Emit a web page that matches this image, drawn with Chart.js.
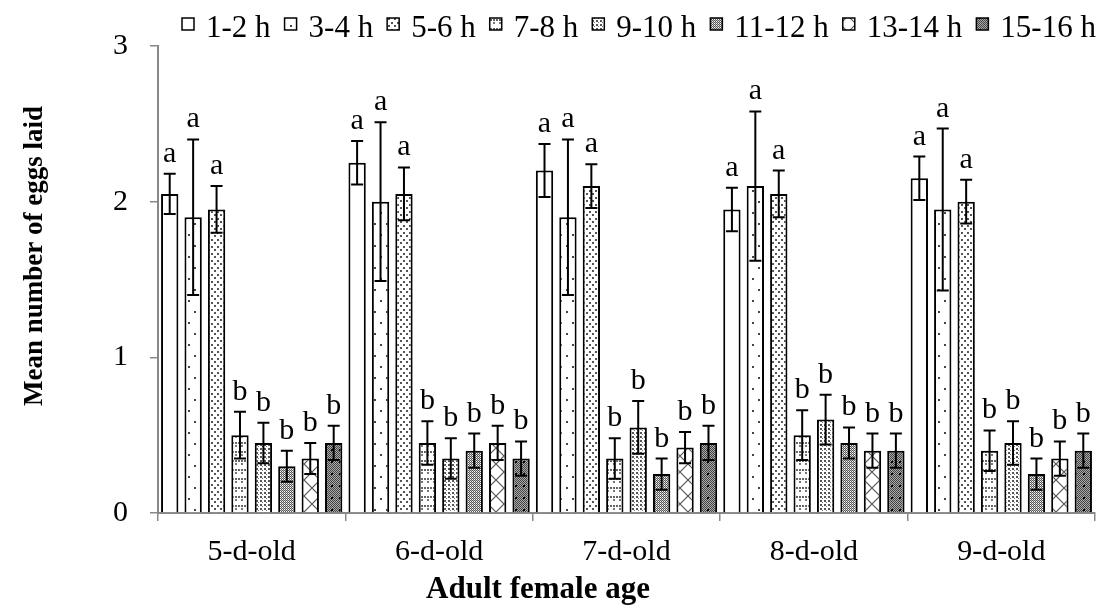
<!DOCTYPE html>
<html lang="en">
<head>
<meta charset="UTF-8">
<title>Mean number of eggs laid</title>
<script src="https://cdn.jsdelivr.net/npm/chart.js"></script>
<style>
  body { margin: 0; background: #fff; }
  canvas { display: block; }
</style>
</head>
<body>
<canvas id="eggChart" width="1101" height="610"></canvas>
<script>
// categories and series
const ages = ['5-d-old', '6-d-old', '7-d-old', '8-d-old', '9-d-old'];
const periods = ['1-2 h', '3-4 h', '5-6 h', '7-8 h', '9-10 h', '11-12 h', '13-14 h', '15-16 h'];

// mean eggs laid, one array per period (values for each age)
const mean_1_2   = [2.05, 2.25, 2.20, 1.95, 2.15];
const mean_3_4   = [1.90, 2.00, 1.90, 2.10, 1.95];
const mean_5_6   = [1.95, 2.05, 2.10, 2.05, 2.00];
const mean_7_8   = [0.50, 0.45, 0.35, 0.50, 0.40];
const mean_9_10  = [0.45, 0.35, 0.55, 0.60, 0.45];
const mean_11_12 = [0.30, 0.40, 0.25, 0.45, 0.25];
const mean_13_14 = [0.35, 0.45, 0.42, 0.40, 0.35];
const mean_15_16 = [0.45, 0.35, 0.45, 0.40, 0.40];

// standard errors
const se_1_2   = [0.13, 0.14, 0.17, 0.14, 0.14];
const se_3_4   = [0.50, 0.51, 0.50, 0.48, 0.52];
const se_5_6   = [0.15, 0.17, 0.14, 0.15, 0.14];
const se_7_8   = [0.15, 0.14, 0.13, 0.16, 0.13];
const se_9_10  = [0.13, 0.13, 0.17, 0.16, 0.14];
const se_11_12 = [0.10, 0.11, 0.10, 0.10, 0.10];
const se_13_14 = [0.10, 0.11, 0.10, 0.11, 0.11];
const se_15_16 = [0.11, 0.11, 0.11, 0.11, 0.11];

// significance letters per period
const letters = ['a', 'a', 'a', 'b', 'b', 'b', 'b', 'b'];
const yTicks = [0, 1, 2, 3];

const means = [mean_1_2, mean_3_4, mean_5_6, mean_7_8, mean_9_10, mean_11_12, mean_13_14, mean_15_16];
const errors = [se_1_2, se_3_4, se_5_6, se_7_8, se_9_10, se_11_12, se_13_14, se_15_16];

const SERIF = '"Liberation Serif", "Times New Roman", serif';

const canvas = document.getElementById('eggChart');
const ctx = canvas.getContext('2d');

function tile(w, h, draw) {
    const c = document.createElement('canvas');
    c.width = w; c.height = h;
    const g = c.getContext('2d');
    g.fillStyle = '#fff';
    g.fillRect(0, 0, w, h);
    draw(g);
    return ctx.createPattern(c, 'repeat');
}
function dot(g, x, y, s, col) { g.fillStyle = col || '#333'; g.fillRect(x, y, s, s); }

const fills = [
    '#ffffff',
    // sparse dots
    tile(12, 22, g => { dot(g, 2, 3, 2, '#444'); dot(g, 8, 14, 2, '#444'); }),
    // dotted
    tile(6, 7, g => { dot(g, 1, 1, 2, '#555'); dot(g, 4, 4, 2, '#555'); }),
    // small dashed grid
    tile(6, 9, g => { dot(g, 1, 1, 2, '#666'); dot(g, 4, 1, 2, '#666'); dot(g, 1, 4, 2, '#777'); }),
    // dense dots
    tile(4, 4, g => { dot(g, 0, 0, 2, '#555'); dot(g, 2, 2, 1, '#777'); }),
    // dark checker
    tile(2, 2, g => { dot(g, 0, 0, 1, '#555'); dot(g, 1, 1, 1, '#555'); dot(g, 1, 0, 1, '#bbb'); }),
    // cross hatch
    tile(16, 16, g => {
        g.strokeStyle = '#555'; g.lineWidth = 1.2;
        g.beginPath();
        g.moveTo(0, 0); g.lineTo(16, 16);
        g.moveTo(16, 0); g.lineTo(0, 16);
        g.stroke();
    }),
    // dark checker with black specks
    tile(8, 12, g => {
        for (let x = 0; x < 8; x++) for (let y = 0; y < 12; y++) {
            g.fillStyle = (x + y) % 2 ? '#aaa' : '#444';
            g.fillRect(x, y, 1, 1);
        }
        dot(g, 3, 5, 2, '#000');
    })
];

const datasets = periods.map((p, i) => ({
    label: p,
    data: means[i],
    backgroundColor: fills[i],
    borderColor: '#000',
    borderWidth: 2,
    barPercentage: 0.74,
    categoryPercentage: 1.0
}));

const errorBars = {
    id: 'errorBars',
    afterDatasetsDraw(chart) {
        const c = chart.ctx;
        const y = chart.scales.y;
        c.save();
        c.strokeStyle = '#000';
        c.lineWidth = 2;
        c.fillStyle = '#000';
        c.font = '30px ' + SERIF;
        c.textAlign = 'center';
        c.textBaseline = 'alphabetic';
        chart.data.datasets.forEach((ds, i) => {
            const meta = chart.getDatasetMeta(i);
            meta.data.forEach((bar, j) => {
                const v = ds.data[j], e = errors[i][j];
                const top = y.getPixelForValue(v + e);
                const bot = y.getPixelForValue(v - e);
                const x = bar.x;
                c.beginPath();
                c.moveTo(x, top); c.lineTo(x, bot);
                c.moveTo(x - 6, top); c.lineTo(x + 6, top);
                c.moveTo(x - 6, bot); c.lineTo(x + 6, bot);
                c.stroke();
                c.fillText(letters[i], x, top - 12);
            });
        });
        c.restore();
    }
};

// legend across the top and the axis titles (placed off-centre like the original)
const extras = {
    id: 'extras',
    afterDraw(chart) {
        const c = chart.ctx;
        c.save();
        c.font = '31px ' + SERIF;
        c.textBaseline = 'alphabetic';
        c.textAlign = 'left';
        let x = 182;
        chart.data.datasets.forEach(ds => {
            c.fillStyle = ds.backgroundColor;
            c.fillRect(x, 18, 12, 12);
            c.strokeStyle = '#000';
            c.lineWidth = 1.5;
            c.strokeRect(x, 18, 12, 12);
            c.fillStyle = '#000';
            c.fillText(ds.label, x + 24, 37);
            x += 24 + c.measureText(ds.label).width + 14;
        });

        c.textAlign = 'center';
        c.textBaseline = 'middle';
        c.font = 'bold 31px ' + SERIF;
        c.fillText('Adult female age', 538, 590);

        c.translate(35, 256);
        c.rotate(-Math.PI / 2);
        c.font = 'bold 27px ' + SERIF;
        c.fillText('Mean number of eggs laid', 0, 0);
        c.restore();
    }
};

new Chart(ctx, {
    type: 'bar',
    data: { labels: ages, datasets: datasets },
    options: {
        responsive: false,
        animation: false,
        layout: { padding: { top: 46, right: 6, left: 0, bottom: 0 } },
        plugins: {
            legend: { display: false },
            tooltip: { enabled: false }
        },
        scales: {
            x: {
                grid: { drawOnChartArea: false, offset: true, tickLength: 8, color: '#888', lineWidth: 1.5 },
                border: { color: '#888', width: 2 },
                ticks: { color: '#000', font: { family: SERIF, size: 30 }, padding: 13 },
                title: { display: false },
                afterFit(s) { s.height = 97; }
            },
            y: {
                min: 0, max: 3,
                afterBuildTicks(s) { s.ticks = yTicks.map(v => ({ value: v })); },
                grid: { drawOnChartArea: false, tickLength: 8, color: '#888', lineWidth: 1.5 },
                border: { color: '#888', width: 2 },
                ticks: { color: '#000', font: { family: SERIF, size: 30 }, padding: 22 },
                title: { display: false },
                afterFit(s) { s.width = 158; }
            }
        }
    },
    plugins: [errorBars, extras]
});
</script>
</body>
</html>
